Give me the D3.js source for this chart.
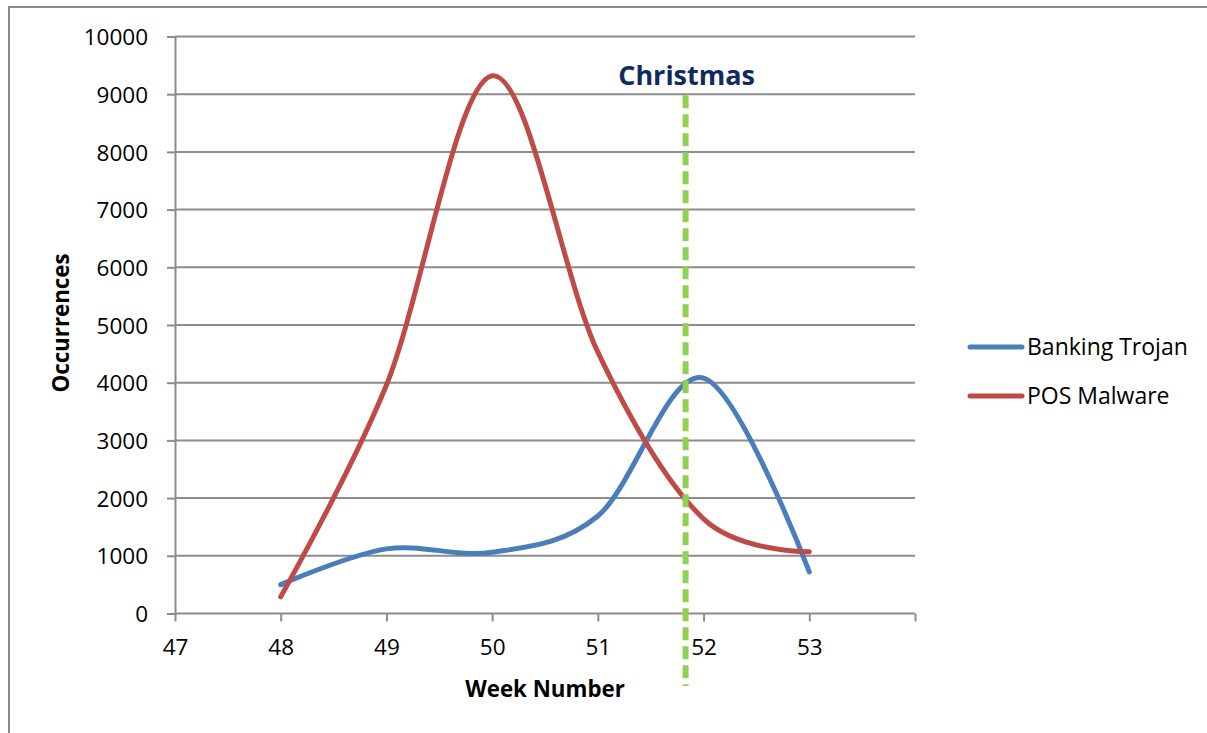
<!DOCTYPE html>
<html><head><meta charset="utf-8">
<script src="https://cdn.jsdelivr.net/npm/d3@7"></script>
<style>
html,body{margin:0;padding:0;background:#fff;}
svg{display:block;}
text{font-family:"Open Sans","Liberation Sans",sans-serif;fill:#000;}
</style></head>
<body>
<script>
const weeks = [48, 49, 50, 51, 52, 53];
const bankingTrojan = [500, 1120, 1060, 1690, 4080, 720];
const posMalware = [290, 3960, 9320, 4530, 1640, 1070];
const seriesNames = ["Banking Trojan", "POS Malware"];
const seriesColors = ["#4A7EBB", "#BE4B48"];
const xTicks = [47, 48, 49, 50, 51, 52, 53, 54];
const xTickLabels = ["47", "48", "49", "50", "51", "52", "53", ""];
const yTicks = [0,1000,2000,3000,4000,5000,6000,7000,8000,9000,10000];
const christmasWeek = 51.83;
const christmasLabel = "Christmas";

const W = 1207, H = 733;
const svg = d3.select("body").append("svg").attr("width", W).attr("height", H);

// outer border
svg.append("rect").attr("x", 9).attr("y", 7).attr("width", W + 10).attr("height", H + 10)
  .attr("fill", "none").attr("stroke", "#8a8a8a").attr("stroke-width", 2);

const x = d3.scaleLinear().domain([47, 54]).range([175, 915]);
const y = d3.scaleLinear().domain([0, 10000]).range([613.5, 36.5]);
const gridColor = "#8c8c8c";

// gridlines + y axis
const yAxis = d3.axisLeft(y).tickValues(yTicks).tickSize(8).tickFormat(d3.format("d"));
const gy = svg.append("g").attr("transform", `translate(${x(47)},0)`).call(yAxis);
gy.select(".domain").attr("stroke", gridColor).attr("stroke-width", 2);
gy.selectAll(".tick line").attr("stroke", gridColor).attr("stroke-width", 2);
gy.selectAll(".tick text").attr("x", -27).attr("dy", "0.36em")
  .style("font-size", "22.5px").style("font-family", "Open Sans");

svg.append("g").selectAll("line").data(yTicks.filter(d => d > 0)).join("line")
  .attr("x1", x(47)).attr("x2", x(54)).attr("y1", d => y(d)).attr("y2", d => y(d))
  .attr("stroke", gridColor).attr("stroke-width", 2);

// x axis
const xAxis = d3.axisBottom(x).tickValues(xTicks).tickSize(8).tickFormat((d, i) => xTickLabels[i]);
const gx = svg.append("g").attr("transform", `translate(0,${y(0)})`).call(xAxis);
gx.select(".domain").attr("stroke", gridColor).attr("stroke-width", 2).attr("d", `M${x(47)},0H${x(54)}`);
gx.selectAll(".tick line").attr("stroke", gridColor).attr("stroke-width", 2);
gx.selectAll(".tick text").attr("y", 26).attr("dy", "0.71em")
  .style("font-size", "22.5px").style("font-family", "Open Sans");

// series
const line = d3.line().x((d, i) => x(weeks[i])).y(d => y(d)).curve(d3.curveCardinal.tension(0));
[bankingTrojan, posMalware].forEach((s, i) => {
  svg.append("path").datum(s).attr("d", line).attr("fill", "none")
    .attr("stroke", seriesColors[i]).attr("stroke-width", 5).attr("stroke-linecap", "round")
    .attr("stroke-linejoin", "round");
});

// christmas marker
svg.append("line").attr("x1", x(christmasWeek)).attr("x2", x(christmasWeek))
  .attr("y1", y(9000) + 1).attr("y2", 686)
  .attr("stroke", "#92D050").attr("stroke-width", 6).attr("stroke-dasharray", "13,6");
svg.append("text").attr("x", x(christmasWeek) + 1).attr("y", 85).attr("text-anchor", "middle")
  .style("font-family", "Open Sans").style("font-weight", "bold").style("font-size", "27px")
  .style("fill", "#0F2A5F").text(christmasLabel);

// axis titles
svg.append("text").attr("x", 545).attr("y", 697).attr("text-anchor", "middle")
  .style("font-weight", "bold").style("font-size", "22.3px").text("Week Number");
svg.append("text").attr("transform", "translate(69,323) rotate(-90)").attr("text-anchor", "middle")
  .style("font-weight", "bold").style("font-size", "22.3px").text("Occurrences");

// legend
const leg = svg.append("g");
seriesNames.forEach((n, i) => {
  const ly = 347 + i * 49;
  leg.append("line").attr("x1", 970).attr("x2", 1022).attr("y1", ly).attr("y2", ly)
    .attr("stroke", seriesColors[i]).attr("stroke-width", 5).attr("stroke-linecap", "round");
  leg.append("text").attr("x", 1027).attr("y", ly + 8).style("font-size", "23px").text(n);
});
</script>
</body></html>
